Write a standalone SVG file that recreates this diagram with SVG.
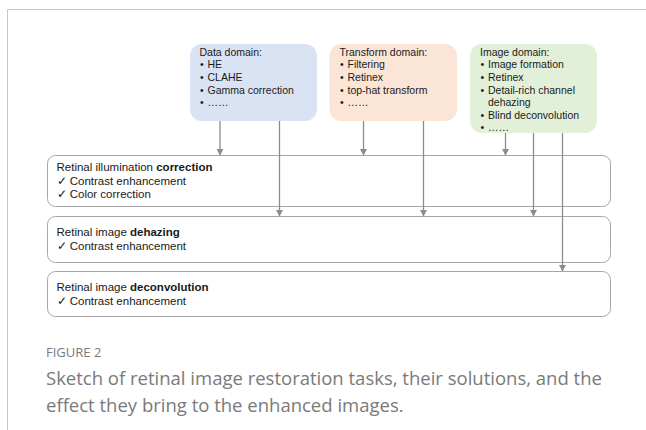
<svg xmlns="http://www.w3.org/2000/svg" width="646" height="430" viewBox="0 0 646 430">
<defs>
<style>
.t{font-family:"Liberation Sans",Arial,sans-serif;font-size:10.5px;fill:#1a1a1a}
.k{font-family:"Liberation Sans",Arial,sans-serif;font-size:11.5px;fill:#1a1a1a}
.b{font-weight:bold}
.task{fill:#fff;stroke:#a6a6a6;stroke-width:1}
.con{stroke:#8c8c8c;stroke-width:1.3;fill:none}
.cap{font-family:"Open Sans",sans-serif;fill:#7a7a7a}
</style>
<marker id="arr" markerWidth="7" markerHeight="7" refX="6" refY="3.5" orient="auto" markerUnits="userSpaceOnUse" viewBox="0 0 7 7">
<path d="M0,0 L6.5,3.5 L0,7 Z" fill="#8c8c8c"/>
</marker>
</defs>
<rect width="646" height="430" fill="#fff"/>
<path d="M7.5,430 V9.5 H646" fill="none" stroke="#c8c8c8" stroke-width="1"/>

<g id="data-domain">
<rect x="190" y="44" width="127" height="77" rx="12" fill="#dae3f3"/>
<text class="t" x="199.5" y="55.7">Data domain:</text>
<text class="t" x="200" y="68.3">•</text><text class="t" x="207.5" y="68.3">HE</text>
<text class="t" x="200" y="80.9">•</text><text class="t" x="207.5" y="80.9">CLAHE</text>
<text class="t" x="200" y="93.5">•</text><text class="t" x="207.5" y="93.5">Gamma correction</text>
<text class="t" x="200" y="106.1">•</text><text class="t" x="207.5" y="106.1">……</text>
</g>

<g id="transform-domain">
<rect x="329.5" y="44" width="127.5" height="77" rx="12" fill="#fbe5d6"/>
<text class="t" x="339.5" y="55.7">Transform domain:</text>
<text class="t" x="340" y="68.3">•</text><text class="t" x="347.5" y="68.3">Filtering</text>
<text class="t" x="340" y="80.9">•</text><text class="t" x="347.5" y="80.9">Retinex</text>
<text class="t" x="340" y="93.5">•</text><text class="t" x="347.5" y="93.5">top-hat transform</text>
<text class="t" x="340" y="106.1">•</text><text class="t" x="347.5" y="106.1">……</text>
</g>

<g id="image-domain">
<rect x="470" y="44" width="127" height="89" rx="12" fill="#e2f0d9"/>
<text class="t" x="480" y="55.7">Image domain:</text>
<text class="t" x="480.5" y="68.3">•</text><text class="t" x="488" y="68.3">Image formation</text>
<text class="t" x="480.5" y="80.9">•</text><text class="t" x="488" y="80.9">Retinex</text>
<text class="t" x="480.5" y="93.5">•</text><text class="t" x="488" y="93.5">Detail-rich channel</text>
<text class="t" x="488" y="106.1">dehazing</text>
<text class="t" x="480.5" y="118.7">•</text><text class="t" x="488" y="118.7">Blind deconvolution</text>
<text class="t" x="480.5" y="131.3">•</text><text class="t" x="488" y="131.3">……</text>
</g>

<g id="task-correction">
<rect class="task" x="47.5" y="155.5" width="563" height="51" rx="8"/>
<text class="k" x="56.5" y="170.7">Retinal illumination <tspan class="b">correction</tspan></text>
<text class="k" x="56.5" y="184.5">✓ Contrast enhancement</text>
<text class="k" x="56.5" y="198">✓ Color correction</text>
</g>

<g id="task-dehazing">
<rect class="task" x="47.5" y="216.5" width="563" height="46" rx="8"/>
<text class="k" x="56.5" y="235.7">Retinal image <tspan class="b">dehazing</tspan></text>
<text class="k" x="56.5" y="249.7">✓ Contrast enhancement</text>
</g>

<g id="task-deconvolution">
<rect class="task" x="47.5" y="271.5" width="563" height="45" rx="8"/>
<text class="k" x="56.5" y="290.7">Retinal image <tspan class="b">deconvolution</tspan></text>
<text class="k" x="56.5" y="304.7">✓ Contrast enhancement</text>
</g>

<g id="connectors">
<path class="con" d="M220,121 V155" marker-end="url(#arr)"/>
<path class="con" d="M279.5,121 V216" marker-end="url(#arr)"/>
<path class="con" d="M363.5,121 V155" marker-end="url(#arr)"/>
<path class="con" d="M423.5,121 V216" marker-end="url(#arr)"/>
<path class="con" d="M505.5,133 V155" marker-end="url(#arr)"/>
<path class="con" d="M533.5,133 V216" marker-end="url(#arr)"/>
<path class="con" d="M562.5,133 V271" marker-end="url(#arr)"/>
</g>

<g id="caption">
<text class="cap" x="46" y="357" font-size="13">FIGURE 2</text>
<text class="cap" x="46" y="385" font-size="18.5">Sketch of retinal image restoration tasks, their solutions, and the</text>
<text class="cap" x="46" y="412" font-size="18.5">effect they bring to the enhanced images.</text>
</g>
</svg>
